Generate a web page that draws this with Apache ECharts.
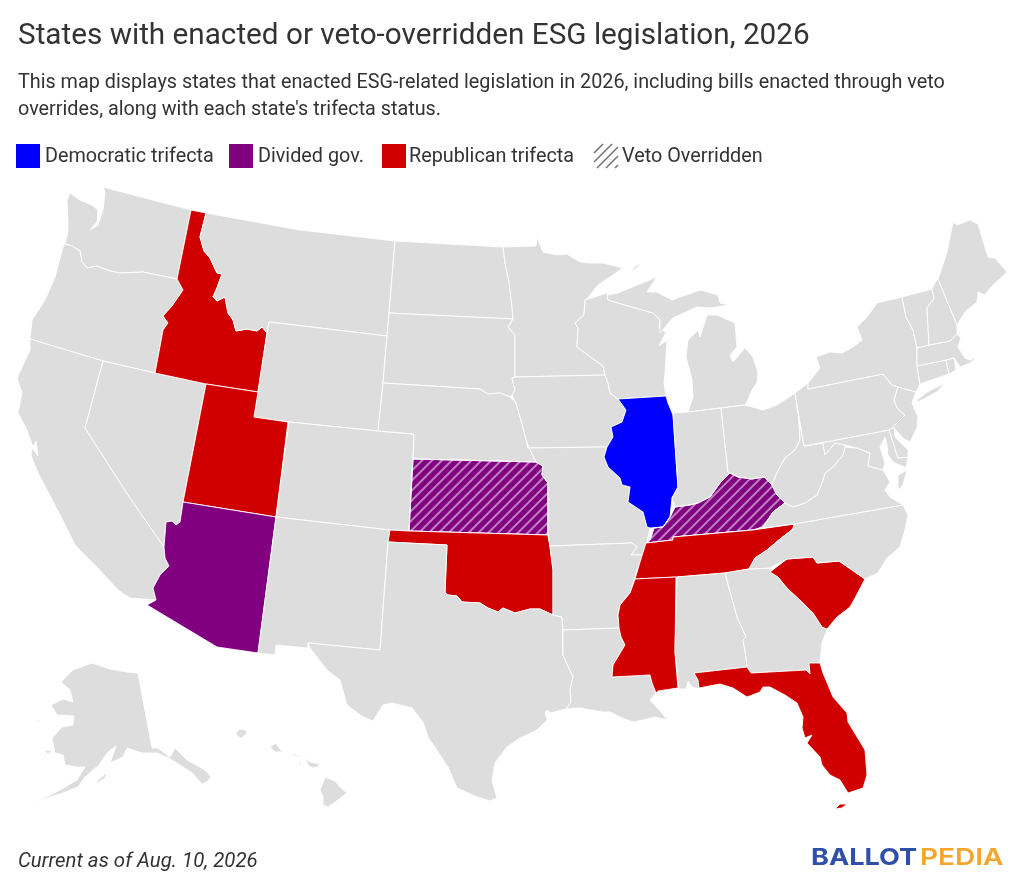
<!DOCTYPE html>
<html><head><meta charset="utf-8">
<style>html,body{margin:0;padding:0;background:#fff}#c{width:1024px;height:889px}</style>
<script src="https://cdn.jsdelivr.net/npm/echarts@6/dist/echarts.min.js"></script>
</head><body><div id="c"></div>
<script>
const titleText = "States with enacted or veto-overridden ESG legislation, 2026";
const subtitleText = "This map displays states that enacted ESG-related legislation in 2026, including bills enacted through veto\noverrides, along with each state's trifecta status.";
const footnote = "Current as of Aug. 10, 2026";
const legendLabels = ["Democratic trifecta","Divided gov.","Republican trifecta","Veto Overridden"];
const demStates = ["Illinois"];
const dividedStates = ["Arizona","Kansas","Kentucky"];
const repStates = ["Idaho","Utah","Oklahoma","Tennessee","Mississippi","South Carolina","Florida"];
const vetoOverridden = ["Kansas","Kentucky"];

// state outlines (flat x,y lists per ring)
const outlines = {
"Washington":[[103,187,191,210,177,279,143,272,120,273,110,271,97,266,87,268,82,262,80,251,72,246,65,244,68,232,68,223,67,200,70,193,80,200,92,205,98,210,97,222,90,230,98,225,103,210,105,192]],
"Oregon":[[65,244,72,246,80,251,82,262,87,268,97,266,110,271,120,273,143,272,177,279,183,290,172,306,163,316,168,323,163,330,155,373,103,361,30,339,32,320,45,300,55,277,63,247]],
"California":[[30,339,103,361,85,428,130,498,164,547,165,558,169,566,160,575,153,588,156,600,130,598,118,590,95,565,75,545,60,515,47,490,38,473,31,455,32,448,38,456,36,441,33,447,27,430,18,413,22,393,17,378,30,350]],
"Nevada":[[103,361,155,373,206,384,183,502,180,522,176,525,172,521,166,522,164,547,130,498,85,428]],
"Idaho":[[191,210,206,213,200,237,204,251,210,258,217,273,222,274,217,288,213,297,217,301,225,297,228,313,233,320,236,331,247,329,257,331,262,327,267,333,258,392,206,384,155,373,163,330,168,323,163,316,172,306,183,290,177,279]],
"Montana":[[206,213,300,230,395,241,389,313,387,336,269,322,267,333,262,327,257,331,247,329,236,331,233,320,228,313,225,297,217,301,213,297,217,288,222,274,217,273,210,258,204,251,200,237]],
"Wyoming":[[269,322,387,336,383,383,378,431,289,422,254,417,258,392,267,333]],
"Utah":[[206,384,258,392,254,417,288,422,276,517,183,502]],
"Arizona":[[183,502,276,517,258,653,217,647,147,605,156,600,153,588,160,575,169,566,165,558,164,547,166,522,172,521,176,525,180,522]],
"Colorado":[[289,422,378,431,414,434,413,459,409,531,390,530,276,517]],
"New Mexico":[[276,517,390,530,388,542,380,650,308,643,308,648,276,645,275,655,258,653]],
"North Dakota":[[395,241,503,247,505,263,509,282,512,307,513,319,389,313]],
"South Dakota":[[389,313,513,319,508,327,515,335,515,377,512,378,515,390,512,395,510,397,500,393,488,394,480,389,383,383,387,336]],
"Nebraska":[[383,383,480,389,488,394,500,393,510,397,516,403,521,420,527,443,536,462,413,459,414,434,378,431]],
"Kansas":[[413,459,536,462,543,466,542,475,548,483,548,535,409,531]],
"Oklahoma":[[390,530,409,531,548,535,550,547,553,570,553,615,540,609,530,609,515,613,503,608,498,612,488,608,480,603,462,602,457,596,448,595,445,592,447,545,388,542]],
"Texas":[[388,542,447,545,445,592,448,595,457,596,462,602,480,603,488,608,498,612,503,608,515,613,530,609,540,609,553,615,562,617,563,655,573,677,570,690,571,702,566,709,550,713,548,710,545,712,547,720,537,730,520,738,507,747,495,763,492,780,497,798,490,801,477,797,457,788,448,767,440,755,428,737,423,722,412,708,392,703,383,705,373,721,363,717,347,705,340,680,327,670,310,648,308,643,380,650]],
"Minnesota":[[503,247,536,246,537,237,543,252,557,255,567,254,580,262,588,263,603,263,623,268,610,277,598,285,587,299,585,300,584,315,575,323,578,328,577,347,588,355,603,366,605,375,515,377,515,335,508,327,513,319,512,307,509,282,505,263]],
"Iowa":[[515,377,605,375,608,383,610,393,618,399,626,410,622,422,611,427,613,437,607,447,528,448,527,443,521,420,516,403,512,395,515,390,512,378]],
"Missouri":[[528,448,607,447,604,457,608,467,620,478,622,485,630,487,628,502,643,512,647,527,650,528,647,542,643,555,631,555,637,547,632,543,550,546,548,535,548,483,542,475,543,466,536,462,527,443]],
"Arkansas":[[550,546,632,543,637,547,631,555,643,555,637,570,630,593,620,605,618,615,619,628,563,630,562,617,553,615,553,570]],
"Louisiana":[[563,630,619,628,621,637,625,645,613,665,612,677,650,675,652,683,656,693,650,700,662,713,667,720,655,717,643,720,633,722,622,718,610,712,602,712,580,708,566,709,571,702,570,690,573,677,563,655]],
"Wisconsin":[[585,300,607,293,608,300,618,303,653,313,660,320,659,327,665,332,673,320,667,330,659,346,667,340,665,373,664,383,666,396,618,399,610,393,608,383,605,375,603,366,588,355,577,347,578,328,575,323,584,315]],
"Illinois":[[618,399,666,396,668,403,673,415,677,473,678,487,672,498,670,517,663,527,650,528,647,527,643,512,628,502,630,487,622,485,620,478,608,467,604,457,607,447,613,437,611,427,622,422,626,410]],
"Michigan":[[608,300,607,295,618,293,637,285,657,277,647,292,657,292,672,300,700,290,718,295,720,303,730,305,710,308,697,307,673,318,660,333,660,320,653,313,618,303],[745,405,721,408,688,412,693,397,692,380,686,357,688,340,698,330,700,337,707,315,717,315,735,323,737,347,730,355,733,362,745,348,753,357,758,373,757,383,752,390,747,402],[633,268,642,262,637,268,631,271]],
"Indiana":[[673,413,688,412,721,408,728,472,730,473,720,483,710,497,698,503,690,505,675,507,672,498,678,487,677,473]],
"Ohio":[[721,408,745,405,763,410,777,405,795,393,799,421,800,440,795,450,785,458,777,473,773,482,772,485,764,477,752,479,738,477,730,473,728,472]],
"Kentucky":[[650,540,654,528,663,527,670,517,675,507,690,505,698,503,710,497,720,483,730,473,738,477,752,479,764,477,772,485,777,495,785,503,773,512,763,527,753,530,673,537,673,540,646,543]],
"Tennessee":[[646,543,673,540,673,537,753,530,794,524,793,529,780,539,767,550,755,558,749,569,725,573,677,577,635,579,640,562]],
"Mississippi":[[635,579,676,577,675,653,678,688,658,691,656,693,652,683,650,675,612,677,613,665,625,645,621,637,619,628,618,615,620,605,630,593]],
"Alabama":[[677,577,725,573,737,617,746,637,743,640,746,657,747,667,694,673,698,680,699,689,692,687,688,681,686,689,679,689,675,650]],
"Georgia":[[725,573,749,569,770,568,778,577,787,588,802,602,813,613,822,627,827,630,822,643,820,663,809,663,810,674,806,670,751,673,747,667,746,657,743,640,746,637,737,617]],
"Florida":[[694,673,747,667,751,673,806,670,810,674,809,663,820,663,823,673,833,697,847,713,848,722,865,750,867,775,863,788,848,793,840,780,830,775,822,765,820,757,807,743,812,735,805,738,802,728,803,717,797,703,785,695,770,687,763,687,760,692,747,697,733,688,720,684,699,688,698,680],[835,809,840,804,847,804,842,808]],
"South Carolina":[[770,572,787,559,813,557,817,563,839,561,865,579,855,598,850,607,837,617,827,629,822,627,813,613,802,602,787,588,778,577]],
"North Carolina":[[794,524,903,505,908,515,905,530,900,547,887,558,878,573,865,579,839,561,817,563,813,557,787,559,770,568,749,569,755,558,767,550,780,539,793,529]],
"Virginia":[[763,528,773,512,785,503,793,507,805,503,817,495,823,480,825,473,833,467,843,455,845,447,857,448,870,453,868,466,883,470,890,482,885,490,890,497,903,505,794,524],[898,490,898,475,907,470,903,485]],
"West Virginia":[[799,421,804,446,823,443,825,455,835,443,845,445,845,447,843,455,833,467,825,473,823,480,817,495,805,503,793,507,785,503,777,495,772,485,773,482,777,473,785,458,795,450,800,440]],
"Maryland":[[804,446,889,430,898,458,908,457,906,468,893,462,888,455,887,445,885,437,880,447,885,463,883,470,868,466,870,453,857,448,845,445,835,443,825,455,823,443]],
"Delaware":[[889,430,894,427,895,437,908,450,908,457,898,458]],
"Pennsylvania":[[795,393,808,383,808,389,883,374,892,385,898,387,894,400,897,408,905,415,894,427,889,430,804,446]],
"New Jersey":[[898,387,916,392,912,403,918,417,917,428,910,442,903,438,893,427,905,415,897,408,894,400]],
"New York":[[808,383,820,368,816,357,830,352,842,353,853,347,862,340,857,327,867,317,877,303,902,297,906,317,913,330,917,348,917,366,920,384,916,392,898,387,892,385,883,374,808,389],[917,400,927,392,945,383,937,392,918,402]],
"Connecticut":[[917,366,946,360,949,374,920,384]],
"Rhode Island":[[946,360,954,358,956,370,949,374]],
"Massachusetts":[[917,348,929,345,950,341,957,334,961,338,958,347,965,358,970,360,978,357,970,363,960,367,954,358,946,360,917,366]],
"Vermont":[[902,297,932,289,934,298,927,308,929,345,917,348,913,330,906,317]],
"New Hampshire":[[932,289,936,281,938,279,957,325,957,334,950,341,929,345,927,308,934,298]],
"Maine":[[938,279,947,252,953,222,957,225,970,220,978,224,988,257,995,258,1007,272,990,288,985,295,978,292,977,302,965,312,957,325]],
"Alaska":[[138,673,152,748,158,748,170,757,175,748,187,760,205,770,211,777,208,781,202,784,192,773,180,765,167,757,157,753,142,753,127,748,123,757,110,763,116,746,107,753,99,765,85,777,78,787,63,793,47,798,25,807,40,800,60,790,77,780,85,767,77,767,65,765,63,755,55,753,52,738,62,727,73,725,74,716,57,715,51,705,63,699,73,702,70,690,61,682,73,670,92,663,110,669,127,672],[96,782,107,772,105,778,97,783],[33,718,43,723,38,722],[44,750,52,751,48,754]],
"Hawaii":[[325,777,335,781,340,787,347,793,338,800,328,807,323,805,323,797,320,790],[305,758,310,762,320,764,318,767,312,768,308,765],[270,747,276,743,279,748,283,752,275,752],[236,733,240,729,246,730,247,733,242,738,238,737],[292,754,301,756,298,757,293,756],[297,762,302,763,300,765]]
};

const LAND = "#dddddd", BLUE = "#0000ff", PURPLE = "#800080", RED = "#d10000", INK = "#333333";

const features = Object.keys(outlines).map(name => ({
  type: "Feature", properties: { name },
  geometry: { type: "MultiPolygon", coordinates: outlines[name].map(r => {
    const ring = [];
    for (let i = 0; i < r.length; i += 2) ring.push([r[i], -r[i + 1]]);
    ring.push(ring[0]);
    return [ring];
  }) }
}));
echarts.registerMap("us", { type: "FeatureCollection", features });

let x0 = 1e9, x1 = -1e9, y0 = 1e9, y1 = -1e9;
Object.values(outlines).flat().forEach(r => { for (let i = 0; i < r.length; i += 2) {
  x0 = Math.min(x0, r[i]); x1 = Math.max(x1, r[i]); y0 = Math.min(y0, r[i + 1]); y1 = Math.max(y1, r[i + 1]); } });

const hatch = { symbol: "rect", symbolSize: 1, dashArrayX: [1, 0], dashArrayY: [2, 5], rotation: -Math.PI / 4, color: "rgba(255,255,255,0.5)" };
const colorOf = n => demStates.includes(n) ? BLUE : dividedStates.includes(n) ? PURPLE : repStates.includes(n) ? RED : LAND;
const seriesData = Object.keys(outlines).map(name => ({
  name, value: colorOf(name) === LAND ? 0 : 1,
  itemStyle: Object.assign({ areaColor: colorOf(name) }, vetoOverridden.includes(name) ? { decal: hatch } : {})
}));

const legendY = 144, sw = 24;
const legendSwatches = [16, 229, 382, 594], legendTextX = [45, 258, 409, 622], legendColors = [BLUE, PURPLE, RED, null];
const graphic = [];
legendLabels.forEach((t, i) => {
  const x = legendSwatches[i];
  if (legendColors[i]) {
    graphic.push({ type: "rect", shape: { x, y: legendY, width: sw, height: sw }, style: { fill: legendColors[i] } });
  } else {
    for (let k = 1; k < 6; k++) {
      const d = k * 9;
      const a = [x + Math.max(0, d - sw), legendY + Math.min(sw, d)], b = [x + Math.min(sw, d), legendY + Math.max(0, d - sw)];
      graphic.push({ type: "line", shape: { x1: a[0], y1: a[1], x2: b[0], y2: b[1] }, style: { stroke: "#777", lineWidth: 1.6 } });
    }
  }
  graphic.push({ type: "text", x: legendTextX[i], y: legendY + 13, style: { text: t, font: "19.8px Roboto", fill: INK, textVerticalAlign: "middle" } });
});
graphic.push({ type: "text", x: 18, y: 862, style: { text: footnote, font: "italic 20.4px Roboto", fill: INK, textVerticalAlign: "middle" } });
graphic.push({ type: "text", x: 811, y: 858, scaleX: 1.154, style: { text: "BALLOT", font: "700 23.5px Inter", fill: "#3050a8", textVerticalAlign: "middle" } });
graphic.push({ type: "text", x: 920, y: 858, scaleX: 1.19, style: { text: "PEDIA", font: "600 23.5px Inter", fill: "#f5a52a", textVerticalAlign: "middle" } });

const chart = echarts.init(document.getElementById("c"), null, { renderer: "canvas" });
chart.setOption({
  backgroundColor: "#fff", animation: false,
  title: [
    { text: titleText, left: 13, top: 17, textStyle: { fontFamily: "Roboto", fontSize: 29.7, fontWeight: 400, color: INK } },
    { text: subtitleText, left: 13, top: 65, textStyle: { fontFamily: "Roboto", fontSize: 19.8, fontWeight: 400, color: INK, lineHeight: 27 } }
  ],
  graphic,
  series: [{
    type: "map", map: "us", silent: true, aspectScale: 1, roam: false,
    left: x0, top: y0, width: x1 - x0, height: y1 - y0,
    label: { show: false }, emphasis: { disabled: true }, select: { disabled: true },
    itemStyle: { areaColor: LAND, borderColor: "#fff", borderWidth: 0.9 },
    data: seriesData
  }]
});
</script></body></html>
